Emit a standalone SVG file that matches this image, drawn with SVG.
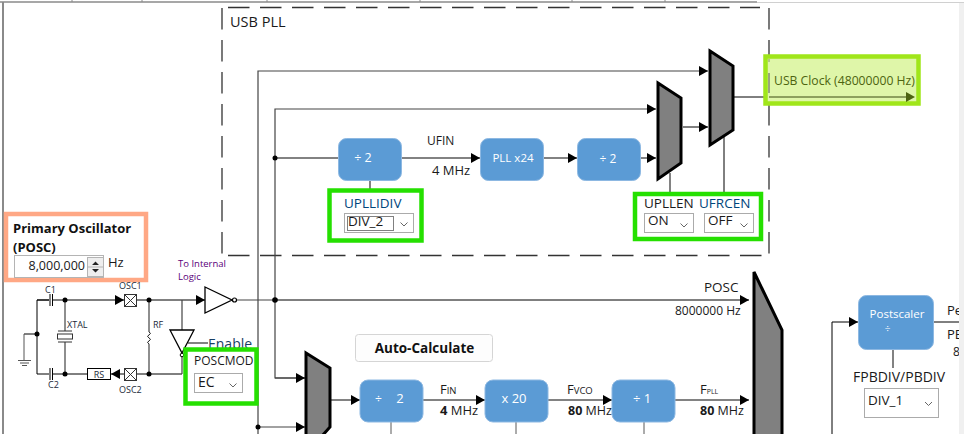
<svg xmlns="http://www.w3.org/2000/svg" width="964" height="434" viewBox="0 0 964 434">
<defs>
<marker id="a" markerUnits="userSpaceOnUse" markerWidth="9" markerHeight="10" refX="9" refY="5" orient="auto"><path d="M0 0L9 5L0 10Z" fill="#000"/></marker>
</defs>
<style>
text{font-family:"Open Sans","Noto Sans","Liberation Sans",sans-serif;font-size:12px;fill:#1a1a1a}
.w{fill:#fff;text-anchor:middle}
.b{fill:#5b9bd5;stroke:#8db8e2;stroke-width:1}
.l{fill:none;stroke:#000;stroke-width:1}
.g{fill:none;stroke:#595959;stroke-width:1.5}
.v{fill:none;stroke:#444;stroke-width:1.200}
.d{fill:none;stroke:#333;stroke-width:1.300;stroke-dasharray:21.500 10.500}
.m{fill:#808080;stroke:#000;stroke-width:3}
.box{fill:#fff;stroke:#25e000;stroke-width:4.500}
.dd{fill:#fff;stroke:#ababab;stroke-width:1}
.c{fill:none;stroke:#666;stroke-width:1}
.n{text-anchor:middle}
.h{fill:#00457c}
.f{font-size:13.500px}
.dot{fill:#000}
.t{font-size:9px;fill:#1c2a3a}
.p{font-size:9.500px;fill:#5a007a}
.sub{font-size:9.500px}
</style>
<rect x="0" y="0" width="964" height="434" fill="#fff"/>
<path d="M0 2H757" stroke="#8a8a8a" stroke-width="1.500" fill="none"/>
<path d="M757 2.500H964" stroke="#d0d0d0" stroke-width="1" fill="none"/>
<path d="M72 0V2M142 0V2M267 0V2M420 0V2M572 0V2M665 0V2" stroke="#8a8a8a" fill="none"/>
<path d="M3 2V434" stroke="#8a8a8a" stroke-width="2" fill="none"/>

<g id="connectors">
<path class="d" d="M222 8V255"/>
<path class="d" d="M228 7.500H760"/>
<path class="d" d="M769 8V256"/>
<path class="d" d="M228 255.500H769"/>
<path class="v" d="M258 434V71H708" marker-end="url(#a)"/>
<path class="v" d="M305 378H275V109H656" marker-end="url(#a)"/>
<path class="v" d="M275 378H305" marker-end="url(#a)"/>
<path class="g" d="M275 158H338"/>
<path class="g" d="M402 158H480" marker-end="url(#a)"/>
<path class="g" d="M544 158H577" marker-end="url(#a)"/>
<path class="g" d="M640 158H656" marker-end="url(#a)"/>
<path class="l" d="M683 127H708" marker-end="url(#a)"/>
<path class="g" d="M370 180V190"/>
<path class="g" d="M670 173V192"/>
<path class="l" d="M724 136V192"/>
<path class="v" d="M236 300H275"/>
<path class="l" d="M275 300H749" marker-end="url(#a)"/>
<path class="l" d="M37 300H49M52 300H124" marker-end="url(#a)"/>
<path class="l" d="M137 300H205" marker-end="url(#a)"/>
<path class="l" d="M49 300H37V374H49"/>
<path class="l" d="M24 334H37"/>
<path class="l" d="M53 374H87"/>
<path class="l" d="M124 374H111" marker-end="url(#a)"/>
<path class="l" d="M137 374H182"/>
<path class="v" d="M65 300V331M65 342V374"/>
<path class="v" d="M149 300V332M149 344V374"/>
<path class="v" d="M182 300V330M182 355V374"/>
<path class="g" d="M188 343H208"/>
<path class="v" d="M258 427H305" marker-end="url(#a)"/>
<path class="g" d="M331 400H360" marker-end="url(#a)"/>
<path class="g" d="M423 400H485" marker-end="url(#a)"/>
<path class="g" d="M548 400H612" marker-end="url(#a)"/>
<path class="g" d="M675 400H749" marker-end="url(#a)"/>
<path class="g" d="M391 422V434M516 422V434M644 422V434" style="stroke-width:1"/>
<path class="l" d="M832 434V322H858" marker-end="url(#a)"/>
<path class="l" d="M934 322H959"/>
<path class="g" d="M893 350V368"/>
</g>

<circle class="dot" cx="275" cy="158" r="2.500"/><circle class="dot" cx="275" cy="300" r="2.800"/><circle class="dot" cx="258" cy="427" r="2.500"/>
<circle class="dot" cx="65" cy="300" r="2.500"/><circle class="dot" cx="65" cy="374" r="2.500"/><circle class="dot" cx="149" cy="300" r="2.500"/><circle class="dot" cx="149" cy="374" r="2.500"/><circle class="dot" cx="37" cy="334" r="2.500"/>

<g id="usb-pll-label"><text x="230" y="27" style="font-size:14.500px">USB PLL</text></g>

<g id="div2-upll"><rect class="b" x="338.500" y="138.500" width="63" height="42" rx="8"/><text class="w" x="363" y="162" style="font-size:12.500px">÷ 2</text></g>
<g id="ufin"><text x="427" y="145">UFIN</text><text x="432" y="175" style="font-size:13px">4 MHz</text></g>
<g id="pll24"><rect class="b" x="480.500" y="138.500" width="63" height="42" rx="8"/><text class="w" x="513" y="162" style="font-size:11.500px">PLL x24</text></g>
<g id="div2-usb"><rect class="b" x="577.500" y="138.500" width="63" height="42" rx="8"/><text class="w" x="608" y="163">÷ 2</text></g>
<g id="mux-upll"><path class="m" d="M658 83L681 98V163L658 179Z"/></g>
<g id="mux-ufrc"><path class="m" d="M710 51L733 66V130L710 145Z"/></g>

<g id="upllidiv"><rect class="box" x="329.500" y="190.500" width="92" height="50"/>
<text class="h f" x="344" y="208">UPLLIDIV</text><rect class="dd" x="344.500" y="213.500" width="69" height="19"/><rect x="347.500" y="216.500" width="46" height="14" fill="none" stroke="#000" stroke-dasharray="1 1"/><text class="f" x="348" y="226">DIV_2</text><path class="c" d="M400.500 222.500L404 226L407.500 222.500"/></g>
<g id="upllen"><rect class="box" x="635" y="194" width="126" height="45"/>
<text class="f" x="644" y="208">UPLLEN</text><text class="h f" x="699" y="208">UFRCEN</text>
<rect class="dd" x="644.500" y="213.500" width="49" height="19"/><text class="f" x="648" y="225">ON</text><path class="c" d="M680.500 223.500L684 227L687.500 223.500"/>
<rect class="dd" x="704.500" y="213.500" width="49" height="19"/><text class="f" x="708" y="225">OFF</text><path class="c" d="M740.500 223.500L744 227L747.500 223.500"/></g>

<path class="l" d="M734 97H766"/>
<g id="usb-clock"><rect x="765.500" y="56.500" width="153" height="47" fill="#dff6a9" stroke="#a0e61a" stroke-width="4.500"/><path d="M769 59V62" stroke="#8a9a60"/><path d="M769 73V93" stroke="#555"/><path d="M769 97H906" stroke="#3a4a10" fill="none"/><path d="M906 92L915 97L906 102Z" fill="#4d6410"/><text x="774" y="85" style="fill:#4d6410;font-size:12.200px">USB Clock (48000000 Hz)</text></g>

<g id="posc"><rect x="6" y="214" width="140" height="66" fill="#fff" stroke="#ffa885" stroke-width="4.500"/>
<text x="13" y="233" style="font-weight:700;font-size:13px;fill:#111">Primary Oscillator</text><text x="13" y="252" style="font-weight:700;font-size:13px;fill:#111">(POSC)</text>
<rect x="14.500" y="255.500" width="89" height="22" fill="#fff" stroke="#b4b4b4"/><text x="85" y="270" style="text-anchor:end;font-size:12.500px">8,000,000</text>
<rect x="87.500" y="257.500" width="16" height="19" fill="#eee" stroke="#b4b4b4"/><path d="M92 265L95.500 261.500L99 265ZM92 269L95.500 272.500L99 269Z" fill="#222"/><path d="M87.500 267H103.500" stroke="#b4b4b4"/>
<text x="108" y="267" style="font-size:13px">Hz</text></g>

<g id="osc-circuit">
<text class="p" x="178" y="267">To Internal</text><text class="p" x="178" y="280">Logic</text>
<path d="M205 287L232 300L205 313Z" fill="#fff" stroke="#000" stroke-width="1.300"/><circle cx="234.500" cy="300" r="2" fill="#fff" stroke="#000" stroke-width="1.200"/>
<path d="M170 330L194 330L182 353Z" fill="#fff" stroke="#000" stroke-width="1.300"/><circle cx="182" cy="355" r="1.800" fill="#fff" stroke="#000"/>
<text x="208" y="349" style="font-size:14px;fill:#163e64">Enable</text>
<g><rect x="124.500" y="294.500" width="12" height="12" fill="#fff" stroke="#333"/><path d="M124.500 294.500L136.500 306.500M136.500 294.500L124.500 306.500" stroke="#333"/></g>
<g><rect x="124.500" y="368.500" width="12" height="12" fill="#fff" stroke="#333"/><path d="M124.500 368.500L136.500 380.500M136.500 368.500L124.500 380.500" stroke="#333"/></g>
<rect x="87.500" y="368.500" width="23" height="11" fill="#fff" stroke="#000"/><text class="n t" x="99" y="378">RS</text>
<path d="M50 294V306M52.500 294V306" stroke="#000"/><path d="M50 368V380M52.500 368V380" stroke="#000"/>
<rect x="57.500" y="334" width="15" height="5" fill="#fff" stroke="#333"/><path d="M58 331H72M58 342H72" stroke="#333"/>
<path d="M24 334V360M18 360.500H31M20 363H29M22 365.500H27" stroke="#555" fill="none"/>
<text class="t" x="45" y="293">C1</text><text class="t" x="48" y="388">C2</text>
<text class="t" x="119" y="289">OSC1</text><text class="t" x="119" y="393">OSC2</text>
<text class="t" x="67" y="328">XTAL</text><text class="t" x="153" y="328">RF</text>
<path d="M149 332q3 1 0 3q-3 1 0 3q3 1 0 3q-3 1 0 3" fill="#fff" stroke="#222"/>
</g>
<g id="poscmod"><rect class="box" x="185.500" y="349.500" width="71" height="54"/><text x="194" y="365">POSCMOD</text><rect class="dd" x="194.500" y="373.500" width="48" height="19"/><text x="198" y="387" style="font-size:14px">EC</text><path class="c" d="M229.500 383.500L233 387L236.500 383.500"/></g>

<g id="mux-pll"><path class="m" d="M306 353L330 368V427L322 436H306Z"/></g>
<g id="mux-sys"><path class="m" d="M754 272L782 330V436H754Z"/></g>

<g id="posc-label"><text x="704" y="292" style="font-size:13.500px">POSC</text><text x="675" y="315">8000000 Hz</text></g>
<g id="auto-calc"><rect x="355.500" y="334.500" width="137" height="27" rx="3" fill="#fdfdfd" stroke="#d5d5d5"/><text x="424.500" y="353" style="font-weight:700;text-anchor:middle;fill:#111;font-size:13.500px">Auto-Calculate</text></g>

<g id="div-fin"><rect class="b" x="360" y="380" width="63" height="42" rx="8"/><text class="w" x="378.500" y="403">÷</text><text class="w" x="400" y="403" style="font-size:13px">2</text></g>
<g id="mul-20"><rect class="b" x="485" y="380" width="63" height="42" rx="8"/><text class="w" x="514" y="403" style="font-size:13px">x 20</text></g>
<g id="div-pll"><rect class="b" x="612" y="380" width="63" height="42" rx="8"/><text class="w" x="642" y="403" style="font-size:13px">÷ 1</text></g>
<g id="fin"><text x="440" y="394" style="font-size:13px">F<tspan class="sub">IN</tspan></text><text x="440" y="415" style="font-size:13px"><tspan style="font-weight:700">4</tspan> MHz</text></g>
<g id="fvco"><text x="567" y="394" style="font-size:13px">F<tspan class="sub">VCO</tspan></text><text x="568" y="415" style="font-size:12.500px"><tspan style="font-weight:700">80</tspan> MHz</text></g>
<g id="fpll"><text x="700" y="394" style="font-size:13px">F<tspan style="font-size:7px">PLL</tspan></text><text x="700" y="415" style="font-size:12.500px"><tspan style="font-weight:700">80</tspan> MHz</text></g>

<g id="postscaler"><rect class="b" x="858.500" y="295.500" width="75" height="54" rx="8"/><text class="w" x="897" y="318" style="font-size:11.500px">Postscaler</text><text class="w" x="887.500" y="333" style="font-size:10px">÷</text></g>
<g id="fpbdiv"><text x="853" y="382" style="font-size:14px">FPBDIV/PBDIV</text><rect class="dd" x="864.500" y="388.500" width="74" height="29"/><text x="868" y="405" style="font-size:13.500px">DIV_1</text><path class="c" d="M925 402L928.500 405.500L932 402"/></g>
<g id="periph"><text x="947" y="315" style="font-size:13px">Pe</text><text x="947" y="339" style="font-size:13px">PB</text><text x="953" y="356" style="font-size:12px">8</text></g>
<rect x="959" y="3" width="5" height="431" fill="#f0f0f0"/>
</svg>
